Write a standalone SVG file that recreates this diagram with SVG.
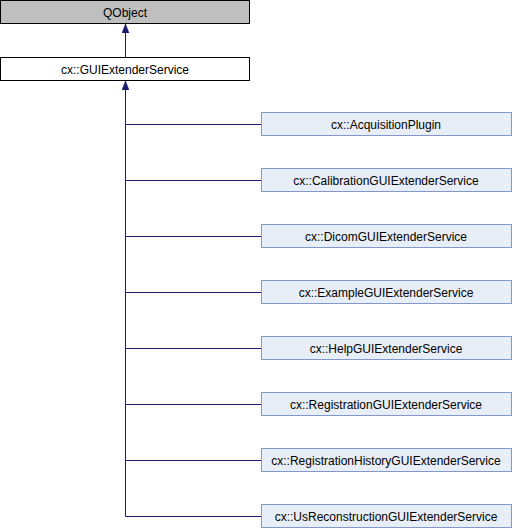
<svg xmlns="http://www.w3.org/2000/svg" width="512" height="528" viewBox="0 0 512 528">
<style>
.n rect{stroke-width:1}
.c rect{fill:#e8eef7;stroke:#8497c9}
text{font-family:"Liberation Sans",Arial,sans-serif;font-size:12px;text-anchor:middle;fill:#000}
.e{stroke:#191970;stroke-width:1;fill:none}
</style>
<defs>
<marker id="a" markerWidth="9" markerHeight="8" viewBox="0 0 9 8" refX="9" refY="4" orient="auto" markerUnits="userSpaceOnUse">
<path d="M0,0.5 L9,4 L0,7.5 Z" fill="#191970" stroke="#191970" stroke-width="0.5"/>
</marker>
</defs>
<rect width="512" height="528" fill="#fff"/>
<g id="edges">
<path class="e" d="M125.5,57 V24" marker-end="url(#a)"/>
<path class="e" d="M125.5,516.5 V81" marker-end="url(#a)"/>
<path class="e" d="M125.5,124.5 H261"/>
<path class="e" d="M125.5,180.5 H261"/>
<path class="e" d="M125.5,236.5 H261"/>
<path class="e" d="M125.5,292.5 H261"/>
<path class="e" d="M125.5,348.5 H261"/>
<path class="e" d="M125.5,404.5 H261"/>
<path class="e" d="M125.5,460.5 H261"/>
<path class="e" d="M125.5,516.5 H261"/>
</g>
<g id="QObject" class="n"><rect x="0.5" y="0.5" width="249" height="23" fill="#bfbfbf" stroke="#000"/><text x="125" y="16.5">QObject</text></g>
<g id="GUIExtenderService" class="n"><rect x="0.5" y="57.5" width="249" height="23" fill="#fff" stroke="#000"/><text x="125" y="73.5">cx::GUIExtenderService</text></g>
<g id="AcquisitionPlugin" class="n c"><rect x="261.5" y="112.5" width="250" height="23"/><text x="386" y="128.5">cx::AcquisitionPlugin</text></g>
<g id="CalibrationGUIExtenderService" class="n c"><rect x="261.5" y="168.5" width="250" height="23"/><text x="386" y="184.5">cx::CalibrationGUIExtenderService</text></g>
<g id="DicomGUIExtenderService" class="n c"><rect x="261.5" y="224.5" width="250" height="23"/><text x="386" y="240.5">cx::DicomGUIExtenderService</text></g>
<g id="ExampleGUIExtenderService" class="n c"><rect x="261.5" y="280.5" width="250" height="23"/><text x="386" y="296.5">cx::ExampleGUIExtenderService</text></g>
<g id="HelpGUIExtenderService" class="n c"><rect x="261.5" y="336.5" width="250" height="23"/><text x="386" y="352.5">cx::HelpGUIExtenderService</text></g>
<g id="RegistrationGUIExtenderService" class="n c"><rect x="261.5" y="392.5" width="250" height="23"/><text x="386" y="408.5">cx::RegistrationGUIExtenderService</text></g>
<g id="RegistrationHistoryGUIExtenderService" class="n c"><rect x="261.5" y="448.5" width="250" height="23"/><text x="386" y="464.5">cx::RegistrationHistoryGUIExtenderService</text></g>
<g id="UsReconstructionGUIExtenderService" class="n c"><rect x="261.5" y="504.5" width="250" height="23"/><text x="386" y="520.5">cx::UsReconstructionGUIExtenderService</text></g>
</svg>
